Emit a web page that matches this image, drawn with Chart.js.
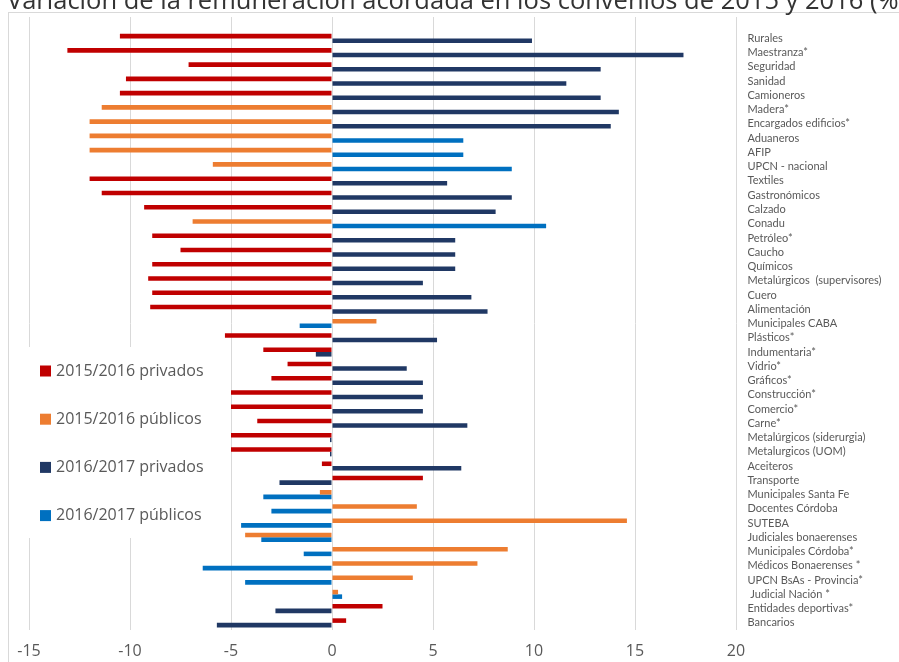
<!DOCTYPE html>
<html>
<head>
<meta charset="utf-8">
<script src="https://cdn.jsdelivr.net/npm/chart.js@4.4.1/dist/chart.umd.min.js"></script>
<style>
body { margin: 0; width: 899px; height: 662px; overflow: hidden; background: #fff; position: relative; }
#frame { position: absolute; left: 8px; top: 12px; width: 1000px; height: 1000px; border: 1px solid #d9d9d9; }
#c { position: absolute; left: 0; top: -12px; }
</style>
</head>
<body>
<div id="frame"></div>
<canvas id="c" width="899" height="674"></canvas>
<script>
// first row is the empty row of the original sheet
var categories = ['', 'Rurales', 'Maestranza*', 'Seguridad', 'Sanidad', 'Camioneros', 'Madera*',
    'Encargados edificios*', 'Aduaneros', 'AFIP', 'UPCN - nacional', 'Textiles', 'Gastronómicos',
    'Calzado', 'Conadu', 'Petróleo*', 'Caucho', 'Químicos', 'Metalúrgicos  (supervisores)', 'Cuero',
    'Alimentación', 'Municipales CABA', 'Plásticos*', 'Indumentaria*', 'Vidrio*', 'Gráficos*',
    'Construcción*', 'Comercio*', 'Carne*', 'Metalúrgicos (siderurgia)', 'Metalurgicos (UOM)',
    'Aceiteros', 'Transporte', 'Municipales Santa Fe', 'Docentes Córdoba', 'SUTEBA',
    'Judiciales bonaerenses', 'Municipales Córdoba*', 'Médicos Bonaerenses *', 'UPCN BsAs - Provincia*',
    ' Judicial Nación *', 'Entidades deportivas*', 'Bancarios'];

var privados1516 = [null, -10.5, -13.1, -7.1, -10.2, -10.5, null,
    null, null, null, null, -12.0, -11.4,
    -9.3, null, -8.9, -7.5, -8.9, -9.1, -8.9,
    -9.0, null, -5.3, -3.4, -2.2, -3.0,
    -5.0, -5.0, -3.7, -5.0, -5.0,
    -0.5, 4.5, null, null, null,
    null, null, null, null,
    null, 2.5, 0.7];

var publicos1516 = [null, null, null, null, null, null, -11.4,
    -12.0, -12.0, -12.0, -5.9, null, null,
    null, -6.9, null, null, null, null, null,
    null, 2.2, null, null, null, null,
    null, null, null, null, null,
    null, null, -0.6, 4.2, 14.6,
    -4.3, 8.7, 7.2, 4.0,
    0.3, null, null];

var privados1617 = [null, 9.9, 17.4, 13.3, 11.6, 13.3, 14.2,
    13.8, null, null, null, 5.7, 8.9,
    8.1, null, 6.1, 6.1, 6.1, 4.5, 6.9,
    7.7, null, 5.2, -0.8, 3.7, 4.5,
    4.5, 4.5, 6.7, -0.1, -0.1,
    6.4, -2.6, null, null, null,
    null, null, null, null,
    null, -2.8, -5.7];

var publicos1617 = [null, null, null, null, null, null, null,
    null, 6.5, 6.5, 8.9, null, null,
    null, 10.6, null, null, null, null, null,
    null, -1.6, null, null, null, null,
    null, null, null, null, null,
    null, null, -3.4, -3.0, -4.5,
    -3.5, -1.4, -6.4, -4.3,
    0.5, null, null];

var seriesNames = ['2015/2016 privados', '2015/2016 públicos', '2016/2017 privados', '2016/2017 públicos'];

Chart.defaults.font.family = '"Open Sans"';
Chart.defaults.color = '#595959';

// legend sits inside the plot, on a white box
var legendBox = {
    id: 'legendBox',
    afterDatasetsDraw: function (chart) {
        var ctx = chart.ctx;
        var area = chart.chartArea;
        ctx.save();
        ctx.fillStyle = '#ffffff';
        ctx.fillRect(area.left - 11, 359, 198, 191);
        ctx.font = '16px "Open Sans"';
        ctx.textBaseline = 'middle';
        ctx.textAlign = 'left';
        chart.data.datasets.forEach(function (ds, i) {
            var y = 383 + i * 48.2;
            ctx.fillStyle = ds.backgroundColor;
            ctx.fillRect(area.left + 11, y - 5.5, 11, 11);
            ctx.fillStyle = '#595959';
            ctx.fillText(ds.label, area.left + 27, y);
        });
        ctx.restore();
    }
};

new Chart(document.getElementById('c'), {
    type: 'bar',
    data: {
        labels: categories,
        datasets: [
            { label: seriesNames[0], data: privados1516, backgroundColor: '#C00000', stack: 'a' },
            { label: seriesNames[1], data: publicos1516, backgroundColor: '#ED7D31', stack: 'a' },
            { label: seriesNames[2], data: privados1617, backgroundColor: '#203864', stack: 'b' },
            { label: seriesNames[3], data: publicos1617, backgroundColor: '#0070C0', stack: 'b' }
        ]
    },
    plugins: [legendBox],
    options: {
        indexAxis: 'y',
        responsive: false,
        animation: false,
        devicePixelRatio: 1,
        datasets: {
            bar: { categoryPercentage: 0.64, barPercentage: 1 }
        },
        layout: { padding: { left: 7, right: -40, top: 0, bottom: 0 } },
        plugins: {
            legend: { display: false },
            tooltip: { enabled: false },
            title: {
                display: true,
                align: 'start',
                text: 'Variación de la remuneración acordada en los convenios de 2015 y 2016 (%)',
                color: '#333333',
                font: { size: 25.5, weight: 'normal', lineHeight: 1.2 },
                padding: { top: -2, bottom: 0.4 }
            }
        },
        scales: {
            x: {
                stacked: true,
                min: -15,
                max: 20,
                ticks: { stepSize: 5, padding: 12, font: { size: 16 } },
                grid: { color: '#d9d9d9', drawTicks: false },
                border: { display: false },
                afterFit: function (scale) {
                    scale.height = 32;
                    scale.paddingLeft = 29;
                }
            },
            y: {
                position: 'right',
                stacked: true,
                grid: { display: false, drawTicks: false },
                border: { display: false },
                ticks: { autoSkip: false, padding: 11.5, font: { family: 'Lato', size: 11 } },
                afterFit: function (scale) {
                    scale.width = 203;
                }
            }
        }
    }
});
</script>
</body>
</html>
